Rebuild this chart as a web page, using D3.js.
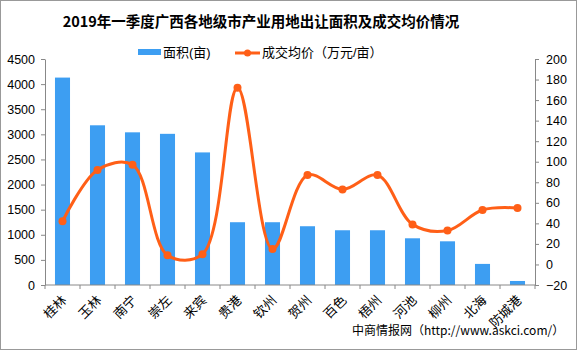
<!DOCTYPE html>
<html>
<head>
<meta charset="utf-8">
<script src="https://cdn.jsdelivr.net/npm/d3@7"></script>
<style>
  body { margin: 0; background: #fff; }
  svg text { font-family: "Liberation Sans", "Noto Sans CJK SC", sans-serif; }
  .cjk { font-family: "Noto Sans CJK SC", sans-serif; }
  .axis path, .axis line { stroke: #888; }
</style>
</head>
<body>
<svg id="chart"></svg>
<script>
// categories and values
const cities = ['桂林', '玉林', '南宁', '崇左', '来宾', '贵港', '钦州', '贺州', '百色', '梧州', '河池', '柳州', '北海', '防城港'];
const areaMu = [4130, 3180, 3040, 3010, 2640, 1250, 1250, 1170, 1090, 1090, 930, 870, 420, 80];
const avgPrice = [42, 92, 97, 9, 10, 172, 15, 87, 73, 87, 39, 33, 53, 55];
const leftTicks = d3.range(0, 4501, 500);
const rightTicks = d3.range(-20, 201, 20);

const width = 577, height = 351;
const margin = {top: 59, right: 42, bottom: 66, left: 45};
const barColor = '#3d9ef2';
const lineColor = '#ff5f17';

const svg = d3.select('#chart')
  .attr('width', width)
  .attr('height', height);

// outer frame
svg.append('rect')
  .attr('x', 0.5).attr('y', 0.5)
  .attr('width', width - 1).attr('height', height - 2)
  .attr('fill', 'none').attr('stroke', '#999');

const x = d3.scaleBand()
  .domain(cities)
  .range([margin.left, width - margin.right]);

const yL = d3.scaleLinear()
  .domain([0, 4500])
  .range([height - margin.bottom, margin.top]);

const yR = d3.scaleLinear()
  .domain([-20, 200])
  .range([height - margin.bottom, margin.top]);

// title
svg.append('text')
  .attr('class', 'cjk')
  .attr('x', 261).attr('y', 27)
  .attr('text-anchor', 'middle')
  .attr('font-size', 14.5)
  .attr('font-weight', 'bold')
  .text('2019年一季度广西各地级市产业用地出让面积及成交均价情况');

// legend
const lg = svg.append('g').attr('class', 'cjk');
lg.append('rect').attr('x', 138).attr('y', 49).attr('width', 23).attr('height', 6).attr('fill', barColor);
lg.append('text').attr('x', 163).attr('y', 57).attr('font-size', 13).text('面积(亩)');
lg.append('line').attr('x1', 235).attr('x2', 260).attr('y1', 53).attr('y2', 53)
  .attr('stroke', lineColor).attr('stroke-width', 3);
lg.append('circle').attr('cx', 247.5).attr('cy', 53).attr('r', 3.5).attr('fill', lineColor);
lg.append('text').attr('x', 262).attr('y', 57).attr('font-size', 13).text('成交均价（万元/亩）');

// bars
const barW = x.bandwidth() * 0.43;
svg.append('g')
  .selectAll('rect')
  .data(cities)
  .join('rect')
  .attr('x', d => x(d) + x.bandwidth() / 2 - barW / 2)
  .attr('y', (d, i) => yL(areaMu[i]))
  .attr('width', barW)
  .attr('height', (d, i) => yL(0) - yL(areaMu[i]))
  .attr('fill', barColor);

// axes
const yAxisL = d3.axisLeft(yL).tickValues(leftTicks).tickSize(4).tickSizeOuter(0).tickPadding(6)
  .tickFormat(d3.format('d'));
svg.append('g')
  .attr('class', 'axis')
  .attr('transform', `translate(${margin.left},0)`)
  .call(yAxisL)
  .call(g => g.selectAll('text').attr('font-size', 12.5).attr('fill', '#000'));

const yAxisR = d3.axisRight(yR).tickValues(rightTicks).tickSize(4).tickSizeOuter(0).tickPadding(7)
  .tickFormat(d => d < 0 ? '\u2212' + Math.abs(d) : d);
svg.append('g')
  .attr('class', 'axis')
  .attr('transform', `translate(${width - margin.right},0)`)
  .call(yAxisR)
  .call(g => g.selectAll('text').attr('font-size', 12.5).attr('fill', '#000'));

// x axis: line plus ticks at band boundaries
const xg = svg.append('g').attr('class', 'axis');
const y0 = yL(0);
xg.append('line')
  .attr('x1', margin.left).attr('x2', width - margin.right)
  .attr('y1', y0).attr('y2', y0);
xg.selectAll('.xt')
  .data(cities.concat(['end']))
  .join('line')
  .attr('class', 'xt')
  .attr('x1', (d, i) => i < cities.length ? x(d) : x.range()[1])
  .attr('x2', (d, i) => i < cities.length ? x(d) : x.range()[1])
  .attr('y1', y0).attr('y2', y0 + 4);
xg.selectAll('.xl')
  .data(cities)
  .join('text')
  .attr('class', 'xl cjk')
  .attr('font-size', 13)
  .attr('text-anchor', 'end')
  .attr('transform', d => `translate(${x(d) + x.bandwidth() / 2 + 5},${y0 + 16}) rotate(-45)`)
  .text(d => d);

// smoothed price line (pixel-space catmull-rom keeps overshoot small like the original)
const line = d3.line()
  .x((d, i) => x(cities[i]) + x.bandwidth() / 2)
  .y(d => yR(d))
  .curve(d3.curveCatmullRom.alpha(0.5));

svg.append('path')
  .datum(avgPrice)
  .attr('d', line)
  .attr('fill', 'none')
  .attr('stroke', lineColor)
  .attr('stroke-width', 3);

svg.append('g')
  .selectAll('circle')
  .data(avgPrice)
  .join('circle')
  .attr('cx', (d, i) => x(cities[i]) + x.bandwidth() / 2)
  .attr('cy', d => yR(d))
  .attr('r', 4)
  .attr('fill', lineColor);

// source note
svg.append('text')
  .attr('class', 'cjk')
  .attr('x', 352).attr('y', 335)
  .attr('font-size', 12)
  .text('中商情报网（http://www.askci.com/）');
</script>
</body>
</html>
